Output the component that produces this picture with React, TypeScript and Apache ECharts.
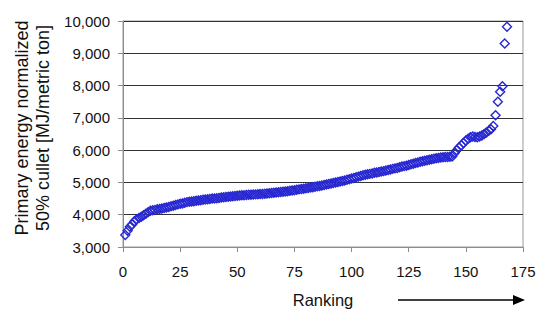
import React, { useEffect, useRef } from "react";
import * as echarts from "echarts";

const energy: number[] = [
  3370, 3500, 3630, 3700, 3800, 3860, 3900, 3940, 3980, 4030,
  4080, 4120, 4140, 4150, 4170, 4180, 4190, 4210, 4220, 4240,
  4260, 4280, 4300, 4320, 4340, 4350, 4370, 4390, 4400, 4410,
  4420, 4430, 4440, 4450, 4460, 4470, 4480, 4490, 4500, 4505,
  4510, 4520, 4530, 4540, 4550, 4555, 4565, 4570, 4580, 4590,
  4595, 4600, 4605, 4610, 4615, 4620, 4625, 4630, 4635, 4640,
  4645, 4650, 4660, 4665, 4670, 4680, 4690, 4695, 4700, 4710,
  4720, 4730, 4740, 4750, 4760, 4770, 4785, 4795, 4805, 4820,
  4830, 4840, 4850, 4865, 4880, 4890, 4905, 4920, 4935, 4950,
  4965, 4980, 5000, 5015, 5030, 5045, 5060, 5080, 5100, 5120,
  5140, 5160, 5180, 5200, 5220, 5235, 5250, 5265, 5280, 5300,
  5310, 5320, 5335, 5350, 5370, 5385, 5400, 5420, 5435, 5450,
  5470, 5490, 5505, 5520, 5540, 5560, 5580, 5600, 5620, 5640,
  5655, 5670, 5690, 5705, 5720, 5735, 5750, 5760, 5770, 5780,
  5785, 5790, 5795, 5800, 5900, 6000, 6080, 6150, 6220, 6300,
  6350, 6400, 6420, 6410, 6400, 6420, 6450, 6500, 6550, 6600,
  6650, 6750, 7080, 7500, 7810, 7980, 9300, 9820,
];

const xTicks = [0, 25, 50, 75, 100, 125, 150, 175];
const yTickMin = 3000;
const yTickMax = 10000;
const yLine1 = "Primary energy normalized";
const yLine2 = "50% cullet [MJ/metric ton]";
const xTitle = "Ranking";

export default function App() {
  const ref = useRef<HTMLDivElement>(null);
  useEffect(() => {
    document.body.style.margin = "0";
    if (!ref.current) return;
    const chart = echarts.init(ref.current, null, { renderer: "svg" });
    const font = "'Liberation Sans', Arial, sans-serif";
    const data = energy.map((v, i) => [i + 1, v]);
    chart.setOption({
      animation: false,
      backgroundColor: "#ffffff",
      grid: {
        left: 123,
        right: 27,
        top: 21,
        bottom: 72,
        show: true,
        borderColor: "#9a9a9a",
        borderWidth: 1,
      },
      xAxis: {
        type: "value",
        min: xTicks[0],
        max: xTicks[xTicks.length - 1],
        interval: 25,
        axisLine: { show: true, lineStyle: { color: "#8c8c8c", width: 1 } },
        axisTick: { show: true, inside: false, length: 5, lineStyle: { color: "#8c8c8c" } },
        splitLine: { show: false },
        axisLabel: { color: "#111", fontSize: 15, fontFamily: font, margin: 17 },
      },
      yAxis: {
        type: "value",
        min: yTickMin,
        max: yTickMax,
        interval: 1000,
        axisLine: { show: true, lineStyle: { color: "#8c8c8c", width: 1 } },
        axisTick: { show: true, inside: false, length: 5, lineStyle: { color: "#8c8c8c" } },
        splitLine: { show: true, lineStyle: { color: "#333333", width: 1 } },
        axisLabel: {
          color: "#111",
          fontSize: 15,
          fontFamily: font,
          margin: 13,
          formatter: (v: number) => v.toLocaleString("en-US"),
        },
      },
      series: [
        {
          type: "scatter",
          data,
          symbol: "diamond",
          symbolSize: 9,
          itemStyle: {
            color: "rgba(0,0,0,0)",
            borderColor: "#2828d2",
            borderWidth: 1.4,
            opacity: 1,
          },
        },
      ],
      graphic: [
        {
          type: "text",
          x: 22,
          y: 128,
          rotation: Math.PI / 2,
          style: {
            text: yLine1,
            font: `18px ${font}`,
            fill: "#111",
            textAlign: "center",
            textVerticalAlign: "middle",
          },
        },
        {
          type: "text",
          x: 43,
          y: 128,
          rotation: Math.PI / 2,
          style: {
            text: yLine2,
            font: `18px ${font}`,
            fill: "#111",
            textAlign: "center",
            textVerticalAlign: "middle",
          },
        },
        {
          type: "text",
          x: 323,
          y: 300,
          style: {
            text: xTitle,
            font: `16.5px ${font}`,
            fill: "#111",
            textAlign: "center",
            textVerticalAlign: "middle",
          },
        },
        {
          type: "line",
          shape: { x1: 398, y1: 300, x2: 515, y2: 300 },
          style: { stroke: "#000", lineWidth: 1.5 },
        },
        {
          type: "polygon",
          shape: { points: [[513, 295], [525, 300], [513, 305]] },
          style: { fill: "#000" },
        },
      ],
    });
    return () => chart.dispose();
  }, []);
  return <div ref={ref} style={{ width: 550, height: 319 }} />;
}
